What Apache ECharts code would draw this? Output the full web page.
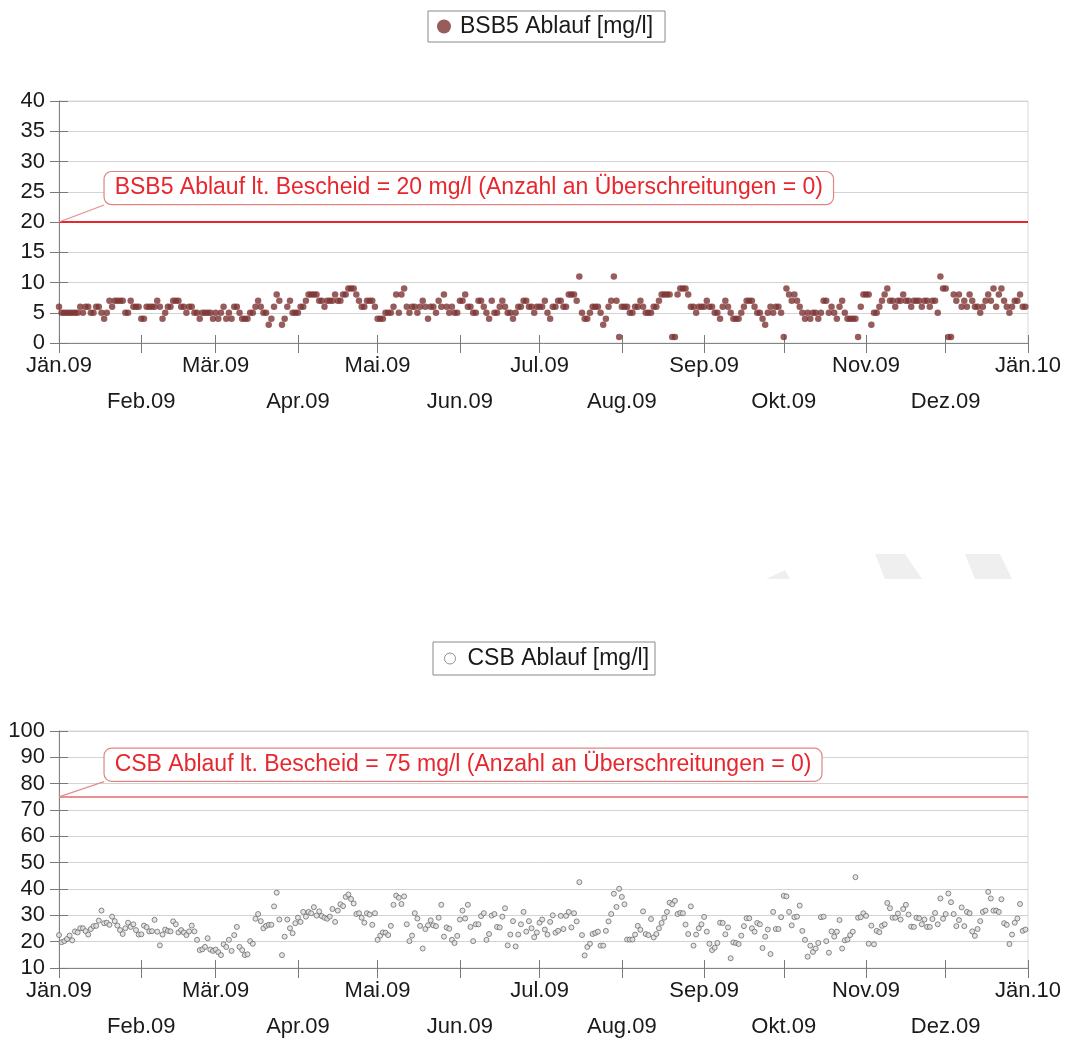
<!DOCTYPE html>
<html><head><meta charset="utf-8">
<script src="https://cdn.jsdelivr.net/npm/echarts@6/dist/echarts.min.js"></script>
<style>html,body{margin:0;padding:0;background:#fff}#c{width:1065px;height:1045px}</style>
</head><body><div id="c"></div>
<script>
// ---------- data ----------
const monthNames = ['Jän','Feb','Mär','Apr','Mai','Jun','Jul','Aug','Sep','Okt','Nov','Dez'];
const bsbName = 'BSB5 Ablauf [mg/l]';
const csbName = 'CSB Ablauf [mg/l]';
const bsbLimit = 20;
const csbLimit = 75;
const bsbLimitText = 'BSB5 Ablauf lt. Bescheid = 20 mg/l (Anzahl an Überschreitungen = 0)';
const csbLimitText = 'CSB Ablauf lt. Bescheid = 75 mg/l (Anzahl an Überschreitungen = 0)';

// BSB5 daily values 2009, per month
const bsbJan = [6,5,5,5,5,5,5,5,6,5,6,6,5,5,6,6,5,4,5,7,6,7,7,7,7,5,5,7,6,6,6];
const bsbFeb = [4,4,6,6,6,6,7,6,4,5,6,6,7,7,7,6,6,5,6,6,5,5,4,5,5,5,5,4];
const bsbMar = [5,4,5,6,4,5,4,6,6,5,4,4,4,5,5,6,7,6,5,5,3,4,6,8,7,3,4,6,7,5,5];
const bsbApr = [5,6,6,7,8,8,8,8,7,7,6,7,7,7,8,7,7,8,8,9,9,9,8,7,6,6,7,7,7,6];
const bsbMay = [4,4,4,5,5,5,6,8,5,8,9,6,5,6,6,5,6,7,6,4,6,6,5,7,6,8,6,5,6,5,5];
const bsbJun = [7,7,8,6,6,5,5,7,7,6,5,4,7,5,5,6,7,6,5,5,4,5,6,6,7,7,6,6,5,6];
const bsbJul = [6,6,7,5,4,6,6,7,7,6,6,8,8,8,7,11,5,4,4,5,6,6,6,5,3,4,6,7,11,7,1];
const bsbAug = [6,6,6,5,5,6,6,7,6,5,5,5,6,6,7,8,8,8,8,1,1,8,9,9,9,8,6,6,5,6,6];
const bsbSep = [6,7,6,6,5,5,4,6,7,6,5,4,4,4,5,6,7,7,7,6,5,5,4,3,5,6,5,6,6,5];
const bsbOct = [1,9,8,7,8,7,6,5,4,5,4,5,5,4,5,7,7,5,6,5,4,6,7,5,4,4,4,4,1,6,8];
const bsbNov = [8,8,3,5,5,6,7,8,9,7,7,6,7,7,8,7,7,6,7,7,7,6,7,7,6,7,7,5,11,9];
const bsbDec = [9,1,1,8,7,8,6,7,6,8,7,6,6,5,6,7,8,7,9,6,8,9,7,6,5,6,7,7,8,6,6];

// CSB daily values 2009 (from 1 Jan)
const csbQ1 = [22.5,19.8,20.2,21.0,22.3,20.5,23.9,23.5,25.1,25.1,24.0,22.7,24.8,25.9,26.0,28.0,
  31.8,27.0,27.2,26.4,29.5,27.8,26.1,24.4,22.9,25.1,27.2,25.6,26.6,24.4,22.7,22.8,26.1,25.5,23.9,24.0,
  28.3,23.8,18.6,22.7,24.6,24.1,23.9,27.7,26.6,23.5,24.4,23.5,22.5,23.9,26.1,23.9,20.7,16.8,17.1,18.0,
  21.3,17.0,16.5,17.0,16.0,14.9,19.0,18.0,20.7,16.5,22.5,25.6,18.0,16.8,14.9,15.2,20.2,19.2,28.7,30.5,
  27.8,25.1,26.0,26.4,26.4,33.4,38.6,28.4,14.9,21.9,28.4,25.1,23.2,27.0,29.1,27.5];
const csbQ2 = [31.3,29.5,31.3,30.8,33.1,29.9,31.5,29.7,29.1,28.7,29.5,32.4,27.5,31.8,34.2,33.5,37.0,
  37.9,36.2,34.5,30.5,30.8,29.1,27.2,30.8,30.3,26.4,30.8,20.7,22.3,23.5,23.4,22.5,26.0,34.0,37.5,36.7,
  34.3,37.2,26.6,20.2,22.3,30.8,28.8,26.0,17.4,24.8,26.2,28.1,26.2,25.9,29.1,34.0,21.9,25.4,24.9,20.7,
  19.5,22.2,28.4,31.8,28.8,34.0,25.6,20.2,26.6,26.6,29.7,30.8,20.7,22.9,29.9,30.5,25.6,25.4,29.5,32.7,
  18.6,22.7,27.8,18.2,22.7,26.6,31.3,23.8,27.8,25.1,21.7,23.5,27.2,28.4,24.6,22.7];
const csbQ3 = [27.5,30.0,23.4,24.1,29.8,24.8,29.8,31.3,25.4,30.8,27.7,42.6,22.5,14.8,18.0,19.2,22.9,
  23.3,23.8,18.5,18.5,24.1,27.7,30.5,38.2,33.2,40.1,37.0,34.2,20.8,20.8,20.8,22.7,26.0,24.5,31.5,22.9,
  22.5,28.6,21.6,22.9,25.1,27.1,29.1,31.3,34.8,34.2,35.5,30.5,30.9,30.8,26.5,22.9,33.4,18.5,22.7,25.1,
  26.6,29.4,23.8,19.2,16.8,17.7,19.5,27.2,27.1,22.8,25.4,13.7,19.7,19.5,19.1,22.3,25.9,28.9,28.9,25.1,
  23.8,27.1,26.6,17.6,21.9,24.6,15.3,31.3,24.8,24.8,29.3,37.4,37.2,31.3,26.2];
const csbQ4 = [29.3,29.5,33.7,24.1,20.7,14.3,18.5,16.1,17.4,19.5,29.3,29.5,20.2,15.8,23.9,21.9,23.8,
  28.2,17.4,20.5,20.8,22.5,23.8,44.5,29.1,29.3,30.8,29.8,19.2,26.1,19.0,24.1,23.6,26.0,26.6,34.7,32.7,
  29.1,29.1,30.7,28.4,32.4,34.0,30.3,25.7,25.6,29.1,28.9,26.6,28.4,25.6,25.6,28.6,30.9,26.6,36.4,28.7,
  30.5,38.3,35.0,30.5,25.9,28.2,33.0,25.9,31.3,30.8,23.9,22.2,24.8,27.8,31.3,31.8,38.9,36.4,31.8,31.8,
  31.3,36.1,27.0,26.4,19.1,22.7,27.2,28.8,34.3,24.1,24.6];

// ---------- build ----------
const bsbValues = [].concat(bsbJan,bsbFeb,bsbMar,bsbApr,bsbMay,bsbJun,bsbJul,bsbAug,bsbSep,bsbOct,bsbNov,bsbDec);
const csbValues = [].concat(csbQ1,csbQ2,csbQ3,csbQ4);
const dates = [];
for (let i = 0; i <= 365; i++) {
  dates.push(new Date(Date.UTC(2009, 0, 1 + i)).toISOString().slice(0, 10));
}
const FONT = 'Arial, "Liberation Sans", sans-serif';
const isMonthStart = (idx, v) => String(v).slice(8, 10) === '01';
const fmtMonth = v => {
  const m = +v.slice(5, 7) - 1;
  const t = monthNames[m] + '.' + v.slice(2, 4);
  return m % 2 === 1 ? '\n' + t : t;
};

function xAxes(gi) {
  return [
    { type: 'category', gridIndex: gi, data: dates, boundaryGap: false, position: 'bottom',
      axisLine: { lineStyle: { color: '#858585', width: 1 } },
      axisTick: { show: true, length: 10, interval: isMonthStart, lineStyle: { color: '#7a7a7a' } },
      axisLabel: { interval: isMonthStart, formatter: fmtMonth, color: '#1a1a1a', fontSize: 22,
        fontFamily: FONT, lineHeight: 36, margin: 5, showMinLabel: true, showMaxLabel: true },
      splitLine: { show: false } },
    { type: 'category', gridIndex: gi, data: dates, boundaryGap: false, position: 'bottom',
      axisLine: { show: false },
      axisTick: { show: true, inside: true, length: 8, interval: isMonthStart, lineStyle: { color: '#7a7a7a' } },
      axisLabel: { show: false }, splitLine: { show: false } }
  ];
}
function yAxes(gi, min, max, step) {
  return [
    { type: 'value', gridIndex: gi, min: min, max: max, interval: step, position: 'left',
      axisLine: { show: true, lineStyle: { color: '#858585', width: 1 } },
      axisTick: { show: true, length: 9, lineStyle: { color: '#7a7a7a' } },
      axisLabel: { color: '#1a1a1a', fontSize: 22, fontFamily: FONT, margin: 14 },
      splitLine: { show: true, lineStyle: { color: '#d3d3d3', width: 1 } } },
    { type: 'value', gridIndex: gi, min: min, max: max, interval: step, position: 'left',
      axisLine: { show: false },
      axisTick: { show: true, inside: true, length: 9, lineStyle: { color: '#7a7a7a' } },
      axisLabel: { show: false }, splitLine: { show: false } }
  ];
}
function limitLabel(text) {
  return { show: true, position: 'right', distance: 0, formatter: text,
    color: '#e8262d', fontSize: 23, fontFamily: FONT,
    backgroundColor: '#ffffff', borderColor: '#e08484', borderWidth: 1.2, borderRadius: 7,
    padding: [5, 10, 4, 10] };
}

const option = {
  animation: false,
  backgroundColor: '#ffffff',
  grid: [
    { left: 59, top: 101, width: 969, height: 242, show: true, borderColor: '#d8d8d8', borderWidth: 1 },
    { left: 59, top: 731, width: 969, height: 244, show: true, borderColor: '#d8d8d8', borderWidth: 1 }
  ],
  legend: [
    { data: [{ name: bsbName, itemStyle: { color: '#7d3535' } }], left: 428, top: 11, orient: 'horizontal',
      icon: 'circle', itemWidth: 14, itemHeight: 14, selectedMode: false,
      borderColor: '#8a8a8a', borderWidth: 1, padding: [4, 12, 4, 9],
      textStyle: { fontSize: 23, fontFamily: FONT, color: '#1a1a1a', padding: [0, 0, 0, 4] } },
    { data: [{ name: csbName, itemStyle: { color: '#ffffff', borderColor: '#777777', borderWidth: 1 } }],
      left: 433, top: 642, icon: 'circle', itemWidth: 11, itemHeight: 11, selectedMode: false,
      borderColor: '#8a8a8a', borderWidth: 1, padding: [5, 6, 5, 11],
      textStyle: { fontSize: 23, fontFamily: FONT, color: '#1a1a1a', padding: [0, 0, 0, 7] } }
  ],
  xAxis: [].concat(xAxes(0), xAxes(1)),
  yAxis: [].concat(yAxes(0, 0, 40, 5), yAxes(1, 10, 100, 10)),
  graphic: [
    { type: 'polygon', silent: true, z: -1, shape: { points: [[766,579],[785,570],[790,579]] }, style: { fill: '#efefef' } },
    { type: 'polygon', silent: true, z: -1, shape: { points: [[875,554],[905,554],[922,579],[885,579]] }, style: { fill: '#efefef' } },
    { type: 'polygon', silent: true, z: -1, shape: { points: [[965,554],[1000,554],[1012,579],[975,579]] }, style: { fill: '#efefef' } }
  ],
  series: [
    { type: 'scatter', name: bsbName, xAxisIndex: 0, yAxisIndex: 0, data: bsbValues,
      symbol: 'circle', symbolSize: 6.5, itemStyle: { color: '#7d3535' }, silent: true,
      markLine: { silent: true, symbol: ['none', 'none'], label: { show: false }, animation: false,
        data: [
          { yAxis: bsbLimit, lineStyle: { color: '#e8262d', width: 2, type: 'solid' } },
          [ { coord: [dates[0], bsbLimit], lineStyle: { color: '#e58c8c', width: 1.2, type: 'solid' } },
            { coord: [dates[17], 22.8] } ]
        ] },
      markPoint: { silent: true, symbol: 'rect', symbolSize: 1, itemStyle: { color: 'rgba(0,0,0,0)' },
        data: [ { coord: [dates[17], 25.6], label: limitLabel(bsbLimitText) } ] } },
    { type: 'scatter', name: csbName, xAxisIndex: 2, yAxisIndex: 2, data: csbValues,
      symbol: 'circle', symbolSize: 5, itemStyle: { color: '#dedede', borderColor: '#6c6c6c', borderWidth: 1 }, silent: true,
      markLine: { silent: true, symbol: ['none', 'none'], label: { show: false }, animation: false,
        data: [
          { yAxis: csbLimit, lineStyle: { color: '#e26a6a', width: 1.5, type: 'solid' } },
          [ { coord: [dates[0], csbLimit], lineStyle: { color: '#e58c8c', width: 1.2, type: 'solid' } },
            { coord: [dates[17], 80.8] } ]
        ] },
      markPoint: { silent: true, symbol: 'rect', symbolSize: 1, itemStyle: { color: 'rgba(0,0,0,0)' },
        data: [ { coord: [dates[17], 87.2], label: limitLabel(csbLimitText) } ] } }
  ]
};
const chart = echarts.init(document.getElementById('c'), null, { renderer: 'canvas' });
chart.setOption(option);
</script>
</body></html>
